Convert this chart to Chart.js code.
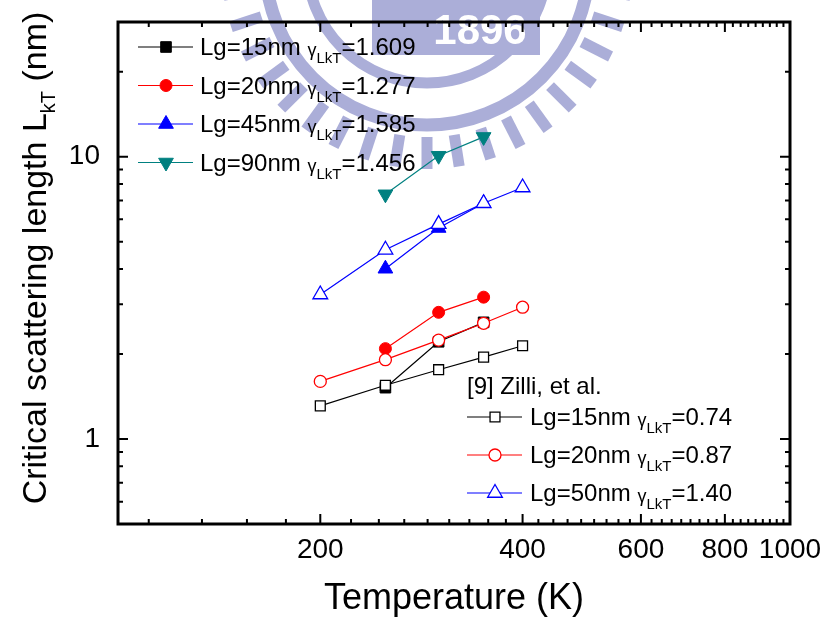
<!DOCTYPE html>
<html>
<head>
<meta charset="utf-8">
<title>Critical scattering length vs temperature</title>
<script src="https://cdn.jsdelivr.net/npm/chart.js@4.4.1/dist/chart.umd.min.js"></script>
<style>
  html, body { margin: 0; padding: 0; background: #fff; }
  #chart { display: block; }
</style>
</head>
<body>
<canvas id="chart" width="830" height="623"></canvas>
<script>
const FONT = '"Liberation Sans", Arial, Helvetica, sans-serif';

// temperatures (K)
const tempsThisWork = [250, 300, 350];
const tempsZilli = [200, 250, 300, 350, 400];

// L_kT (nm), this work
const lkt15 = [1.52, 2.21, 2.59];
const lkt20 = [2.09, 2.81, 3.18];
const lkt45 = [4.01, 5.59, 6.84];
const lkt90 = [7.36, 10.08, 11.75];

// L_kT (nm), Zilli et al.
const zilli15 = [1.31, 1.55, 1.76, 1.95, 2.14];
const zilli20 = [1.60, 1.91, 2.24, 2.57, 2.93];
const zilli50 = [3.25, 4.68, 5.77, 6.84, 7.78];

const lgLabels = ['Lg=15nm', 'Lg=20nm', 'Lg=45nm', 'Lg=90nm'];
const gammaValues = ['1.609', '1.277', '1.585', '1.456'];
const zilliTitle = '[9] Zilli, et al.';
const zilliLgLabels = ['Lg=15nm', 'Lg=20nm', 'Lg=50nm'];
const zilliGammaValues = ['0.74', '0.87', '1.40'];

const xTickValues = [200, 400, 600, 800, 1000];
const yTickValues = [1, 10];

const series = [
  { temps: tempsThisWork, values: lkt15, color: '#000000', pointStyle: 'rect', radius: 7.5, rotation: 0, hollow: false },
  { temps: tempsThisWork, values: lkt20, color: '#ff0000', pointStyle: 'circle', radius: 6, rotation: 0, hollow: false },
  { temps: tempsThisWork, values: lkt45, color: '#0000ff', pointStyle: 'triangle', radius: 8.5, rotation: 0, hollow: false },
  { temps: tempsThisWork, values: lkt90, color: '#008080', pointStyle: 'triangle', radius: 8.5, rotation: 180, hollow: false },
  { temps: tempsZilli, values: zilli15, color: '#000000', pointStyle: 'rect', radius: 7, rotation: 0, hollow: true },
  { temps: tempsZilli, values: zilli20, color: '#ff0000', pointStyle: 'circle', radius: 6, rotation: 0, hollow: true },
  { temps: tempsZilli, values: zilli50, color: '#0000ff', pointStyle: 'triangle', radius: 8.5, rotation: 0, hollow: true },
];

const drawMarker = (ctx, s, x, y) => {
  const r = s.radius;
  ctx.beginPath();
  if (s.pointStyle === 'circle') {
    ctx.arc(x, y, r, 0, Math.PI * 2);
  } else if (s.pointStyle === 'rect') {
    const h = r * Math.SQRT1_2;
    ctx.rect(x - h, y - h, 2 * h, 2 * h);
  } else {
    let a = s.rotation * Math.PI / 180;
    ctx.moveTo(x + Math.sin(a) * r, y - Math.cos(a) * r);
    a += 2 * Math.PI / 3;
    ctx.lineTo(x + Math.sin(a) * r, y - Math.cos(a) * r);
    a += 2 * Math.PI / 3;
    ctx.lineTo(x + Math.sin(a) * r, y - Math.cos(a) * r);
    ctx.closePath();
  }
  ctx.fillStyle = s.hollow ? '#ffffff' : s.color;
  ctx.fill();
  ctx.strokeStyle = s.color;
  ctx.lineWidth = s.hollow ? 1.3 : 1;
  ctx.stroke();
};

// text pieces with their own size and baseline shift (for subscripts)
const drawRichText = (ctx, x, baseline, parts) => {
  let cx = x;
  parts.forEach((p) => {
    ctx.font = `${p.size}px ${FONT}`;
    ctx.fillText(p.text, cx, baseline + p.dy);
    cx += ctx.measureText(p.text).width;
  });
};

const richWidth = (ctx, parts) => parts.reduce((w, p) => {
  ctx.font = `${p.size}px ${FONT}`;
  return w + ctx.measureText(p.text).width;
}, 0);

const gammaParts = (lg, gamma) => [
  { text: `${lg} `, size: 24, dy: 0 },
  { text: 'γ', size: 18, dy: 1 },
  { text: 'LkT', size: 15, dy: 8 },
  { text: `=${gamma}`, size: 24, dy: 0 },
];

const legendRow = (ctx, s, lineFrom, lineTo, markerX, y, textX, parts) => {
  ctx.strokeStyle = s.color;
  ctx.lineWidth = 1.2;
  ctx.beginPath();
  ctx.moveTo(lineFrom, y);
  ctx.lineTo(lineTo, y);
  ctx.stroke();
  drawMarker(ctx, s, markerX, y);
  ctx.fillStyle = '#000';
  drawRichText(ctx, textX, y + 8, parts);
};

// university seal printed faintly behind the top of the plot
const drawSeal = (ctx) => {
  const cx = 427;
  const cy = -37;
  ctx.save();
  ctx.fillStyle = '#abaed8';
  ctx.strokeStyle = '#abaed8';
  ctx.lineWidth = 13;
  ctx.beginPath();
  ctx.arc(cx, cy, 162, 0, Math.PI * 2);
  ctx.stroke();
  for (let deg = 0; deg <= 180; deg += 9) {
    ctx.save();
    ctx.translate(cx, cy);
    ctx.rotate(deg * Math.PI / 180);
    ctx.fillRect(174, -5.5, 32, 11);
    ctx.restore();
  }
  ctx.lineWidth = 11;
  ctx.beginPath();
  ctx.arc(cx, cy, 120, 0, Math.PI * 2);
  ctx.stroke();
  ctx.fillRect(372, 0, 168, 55);
  ctx.fillStyle = '#ffffff';
  ctx.font = `bold 42px ${FONT}`;
  ctx.textAlign = 'center';
  ctx.fillText('1896', 480, 44);
  ctx.restore();
};

const sealPlugin = {
  id: 'seal',
  beforeDraw: (chart) => drawSeal(chart.ctx),
};

const framePlugin = {
  id: 'frame',
  afterDraw: (chart) => {
    const { ctx, chartArea: a, scales: { x, y } } = chart;
    ctx.save();
    ctx.strokeStyle = '#000';
    ctx.lineWidth = 2;

    const xTick = (v, len) => {
      const px = x.getPixelForValue(v);
      ctx.beginPath();
      ctx.moveTo(px, a.bottom);
      ctx.lineTo(px, a.bottom - len);
      ctx.moveTo(px, a.top);
      ctx.lineTo(px, a.top + len);
      ctx.stroke();
    };
    const yTick = (v, len) => {
      const py = y.getPixelForValue(v);
      ctx.beginPath();
      ctx.moveTo(a.left, py);
      ctx.lineTo(a.left + len, py);
      ctx.moveTo(a.right, py);
      ctx.lineTo(a.right - len, py);
      ctx.stroke();
    };

    // x: majors every 200 K, eight minors between them
    for (let k = 1; k < 45; k++) {
      const v = k * 200 / 9;
      if (v <= x.min || v >= x.max) continue;
      xTick(v, k % 9 === 0 ? 10 : 5);
    }
    // y: log decades with 2..9 minors
    [0.1, 1, 10].forEach((d) => {
      for (let m = 1; m < 10; m++) {
        const v = m * d;
        if (v <= y.min || v >= y.max) continue;
        yTick(v, yTickValues.includes(v) ? 10 : 5);
      }
    });

    ctx.lineWidth = 3;
    ctx.strokeRect(a.left, a.top, a.right - a.left, a.bottom - a.top);

    // legend, this work
    series.slice(0, 4).forEach((s, i) => {
      legendRow(ctx, s, 138, 193, 166, 47 + i * 38.5, 200, gammaParts(lgLabels[i], gammaValues[i]));
    });

    // legend, Zilli et al.
    ctx.fillStyle = '#000';
    ctx.font = `24px ${FONT}`;
    ctx.fillText(zilliTitle, 467, 394);
    series.slice(4).forEach((s, i) => {
      legendRow(ctx, s, 467, 522, 495, 417 + i * 38, 530, gammaParts(zilliLgLabels[i], zilliGammaValues[i]));
    });

    // y axis title with subscript
    const titleParts = [
      { text: 'Critical scattering length L', size: 34, dy: 0 },
      { text: 'kT', size: 20, dy: 9 },
      { text: ' (nm)', size: 34, dy: 0 },
    ];
    ctx.translate(46, 258);
    ctx.rotate(-Math.PI / 2);
    ctx.fillStyle = '#000';
    drawRichText(ctx, -richWidth(ctx, titleParts) / 2, 0, titleParts);
    ctx.restore();
  },
};

const stripPadding = (scale) => {
  scale.paddingTop = 0;
  scale.paddingBottom = 0;
  scale.paddingLeft = 0;
  scale.paddingRight = 0;
};

const chart = new Chart(document.getElementById('chart'), {
  type: 'line',
  data: {
    datasets: series.map((s) => ({
      data: s.temps.map((t, i) => ({ x: t, y: s.values[i] })),
      borderColor: s.color,
      borderWidth: 1.2,
      pointStyle: s.pointStyle,
      pointRadius: s.radius,
      pointRotation: s.rotation,
      pointBackgroundColor: s.hollow ? '#ffffff' : s.color,
      pointBorderColor: s.color,
      pointBorderWidth: s.hollow ? 1.3 : 1,
      order: s.hollow ? 0 : 1,
      fill: false,
      tension: 0,
    })),
  },
  options: {
    responsive: false,
    devicePixelRatio: 1,
    animation: false,
    layout: { padding: { left: 0, right: 40, top: 22, bottom: 0 } },
    plugins: {
      legend: { display: false },
      tooltip: { enabled: false },
    },
    scales: {
      x: {
        type: 'logarithmic',
        position: 'bottom',
        min: 100,
        max: 1000,
        grid: { display: false, drawTicks: false },
        border: { display: false },
        afterBuildTicks: (scale) => {
          scale.ticks = xTickValues.map((value) => ({ value }));
        },
        afterFit: (scale) => {
          scale.height = 99;
          stripPadding(scale);
        },
        ticks: {
          autoSkip: false,
          maxRotation: 0,
          padding: 9,
          color: '#000',
          font: { family: FONT, size: 28 },
          callback: (value) => String(value),
        },
        title: {
          display: true,
          text: 'Temperature (K)',
          color: '#000',
          font: { family: FONT, size: 36 },
          padding: { top: 0, bottom: 2 },
        },
      },
      y: {
        type: 'logarithmic',
        position: 'left',
        min: 0.5,
        max: 30,
        grid: { display: false, drawTicks: false },
        border: { display: false },
        afterBuildTicks: (scale) => {
          scale.ticks = yTickValues.map((value) => ({ value }));
        },
        afterFit: (scale) => {
          scale.width = 118;
          stripPadding(scale);
        },
        ticks: {
          autoSkip: false,
          padding: 18,
          color: '#000',
          font: { family: FONT, size: 28 },
          callback: (value) => String(value),
        },
      },
    },
  },
  plugins: [sealPlugin, framePlugin],
});
</script>
</body>
</html>
